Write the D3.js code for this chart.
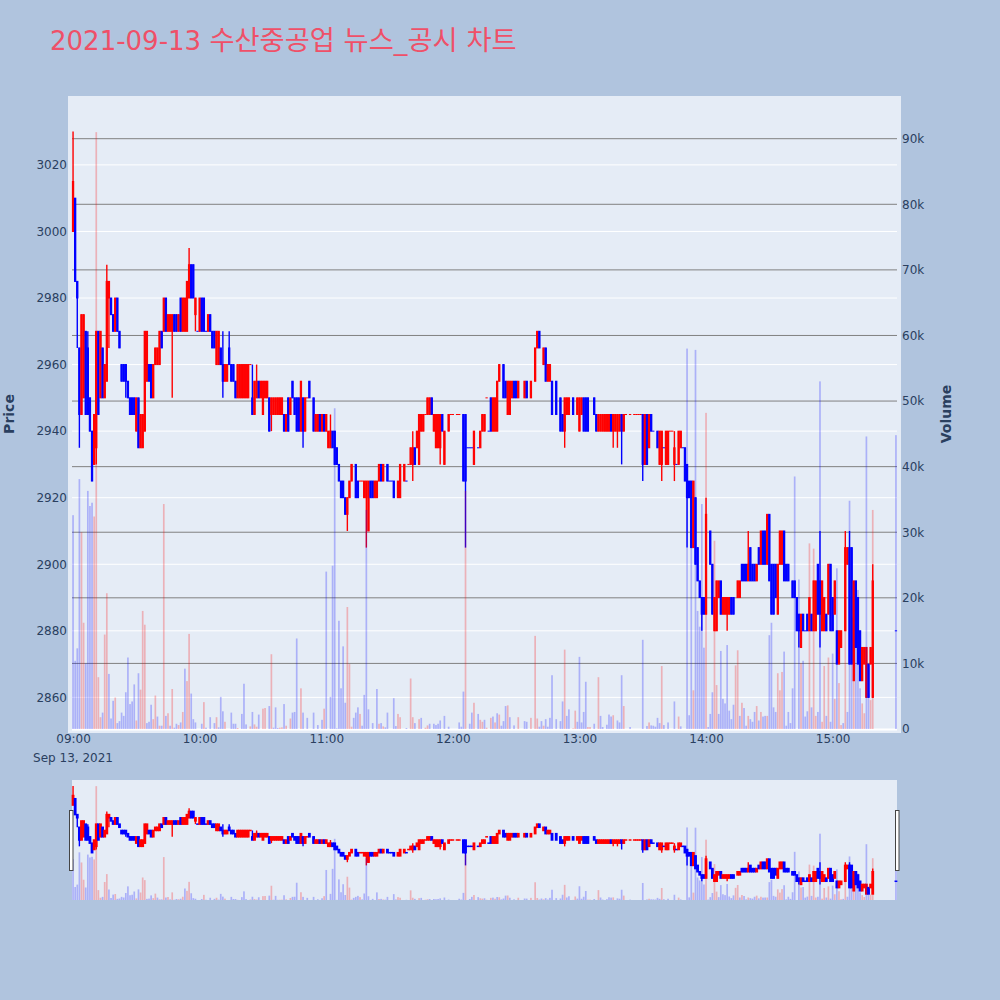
<!DOCTYPE html>
<html><head><meta charset="utf-8">
<script src="https://cdn.jsdelivr.net/npm/d3@7/dist/d3.min.js"></script>
<style>html,body{margin:0;padding:0;background:#b0c4de}svg{display:block}</style>
</head><body><svg id="c" width="1000" height="1000"></svg>
<script>
const chartDate = "2021-09-13";
const chartName = "수산중공업 뉴스_공시 차트";
const xTickMinutes = [0,60,120,180,240,300,360];
const xTickLabels = ["09:00","10:00","11:00","12:00","13:00","14:00","15:00"];
const dateLabel = "Sep 13, 2021";
const priceTicks = [2860,2880,2900,2920,2940,2960,2980,3000,3020];
const volumeTicks = [0,10,20,30,40,50,60,70,80,90];

const candleMinutes = [
0,1,2,3,4,5,6,7,8,9,10,11,12,13,14,15,16,17,18,19,
20,21,22,23,24,25,26,27,28,29,30,31,32,33,34,35,36,37,38,39,
40,41,42,43,44,45,46,47,48,49,50,51,52,53,54,55,56,57,58,59,
60,61,62,63,64,65,66,67,68,69,70,71,72,73,74,75,76,77,78,79,
80,81,82,83,84,85,86,87,88,89,90,91,92,93,94,95,96,97,98,99,
100,101,102,103,104,105,106,107,108,109,110,111,112,114,115,116,117,118,119,120,
121,122,123,124,125,126,127,128,129,130,131,132,134,135,136,137,138,139,140,141,
142,143,144,145,146,147,149,150,151,152,154,155,157,158,159,160,161,162,163,164,
165,166,167,168,169,170,171,172,173,174,175,176,178,179,180,182,183,185,186,187,
188,189,190,192,193,194,195,196,197,198,199,200,201,202,204,205,206,207,208,209,
210,211,214,215,217,219,220,221,223,224,225,226,227,229,231,232,233,234,235,237,
239,240,241,242,243,244,247,248,249,250,251,252,253,254,255,256,257,258,259,260,
261,262,264,266,267,268,269,270,271,272,273,274,275,277,278,279,280,281,282,283,
284,285,286,287,288,289,290,291,292,293,294,295,296,297,298,299,300,302,303,304,
305,306,307,308,309,310,311,312,313,315,316,317,318,319,320,321,322,323,324,325,
326,327,328,329,330,331,332,333,334,335,336,337,338,339,341,342,343,344,345,346,
347,348,349,350,351,352,353,354,355,356,357,358,359,360,361,362,363,364,366,367,
368,369,370,371,372,373,374,375,376,377,378,379,390];
const opens = [
3000,3010,2985,2965,2945,2950,2970,2965,2950,2940,2930,2935,2970,2950,2965,2950,2955,2980,2980,2975,
2970,2980,2970,2960,2960,2960,2955,2950,2950,2950,2940,2950,2935,2935,2940,2955,2960,2960,2950,2960,
2960,2960,2970,2970,2980,2970,2970,2970,2975,2975,2970,2980,2970,2970,2970,2980,2990,2990,2975,2970,
2970,2980,2980,2970,2970,2975,2970,2970,2960,2960,2965,2960,2955,2955,2965,2960,2960,2955,2950,2950,
2950,2950,2950,2950,2960,2950,2945,2950,2955,2950,2945,2950,2950,2950,2945,2945,2945,2945,2945,2945,
2945,2940,2950,2945,2955,2950,2950,2950,2940,2950,2940,2950,2955,2950,2940,2940,2945,2940,2945,2940,
2935,2935,2940,2940,2935,2930,2925,2925,2920,2915,2920,2925,2930,2925,2925,2925,2920,2920,2910,2925,
2925,2920,2920,2925,2930,2925,2930,2925,2925,2925,2920,2920,2925,2925,2930,2930,2930,2935,2935,2930,
2940,2940,2945,2945,2945,2950,2940,2935,2935,2935,2945,2930,2940,2945,2945,2945,2945,2945,2945,2935,
2935,2935,2930,2935,2935,2940,2940,2950,2940,2950,2940,2940,2940,2955,2960,2955,2945,2945,2950,2955,
2955,2950,2950,2955,2950,2955,2965,2970,2960,2965,2955,2955,2955,2955,2950,2945,2940,2945,2945,2950,
2945,2940,2945,2950,2950,2950,2950,2945,2940,2940,2940,2940,2940,2940,2945,2940,2940,2940,2940,2945,
2940,2945,2945,2945,2945,2945,2945,2945,2930,2945,2935,2945,2940,2940,2930,2930,2935,2930,2930,2940,
2940,2930,2930,2930,2935,2935,2935,2930,2925,2925,2905,2920,2905,2895,2890,2890,2885,2910,2900,2880,
2880,2890,2895,2885,2885,2885,2885,2890,2890,2890,2890,2900,2900,2900,2895,2905,2900,2900,2895,2905,
2900,2910,2910,2900,2915,2900,2900,2900,2885,2900,2900,2910,2900,2900,2895,2895,2890,2885,2875,2885,
2880,2885,2880,2885,2880,2880,2900,2895,2880,2880,2885,2885,2900,2890,2885,2880,2870,2875,2880,2900,
2905,2905,2865,2895,2890,2880,2865,2870,2860,2870,2870,2860,2880];
const closes = [
3015,2985,2980,2945,2975,2975,2945,2945,2940,2925,2945,2970,2945,2970,2950,2960,2985,2985,2975,2970,
2980,2970,2965,2955,2955,2955,2950,2945,2945,2945,2950,2935,2945,2945,2970,2970,2955,2950,2960,2965,
2965,2970,2965,2980,2970,2975,2975,2975,2970,2970,2975,2970,2980,2980,2985,2990,2980,2980,2980,2970,
2980,2970,2970,2970,2975,2970,2965,2965,2970,2970,2960,2955,2960,2960,2960,2955,2955,2950,2960,2960,
2960,2960,2960,2960,2960,2945,2955,2955,2950,2955,2955,2955,2955,2940,2950,2950,2950,2950,2950,2950,
2940,2945,2940,2950,2950,2945,2940,2940,2955,2940,2950,2950,2950,2940,2945,2945,2940,2945,2940,2945,
2940,2940,2935,2930,2930,2925,2920,2920,2915,2920,2925,2930,2920,2920,2925,2925,2925,2925,2925,2920,
2920,2925,2925,2930,2925,2930,2925,2925,2925,2920,2925,2930,2930,2925,2930,2935,2935,2930,2940,2945,
2945,2945,2945,2950,2950,2945,2945,2945,2945,2945,2940,2940,2945,2945,2945,2945,2945,2925,2925,2935,
2935,2935,2940,2935,2940,2945,2945,2950,2940,2940,2950,2950,2955,2960,2950,2950,2955,2955,2955,2950,
2950,2955,2955,2950,2955,2965,2970,2965,2965,2955,2960,2960,2945,2945,2940,2940,2950,2950,2950,2945,
2950,2950,2950,2940,2940,2940,2945,2940,2945,2945,2945,2945,2945,2945,2940,2945,2945,2945,2945,2940,
2945,2945,2945,2945,2945,2945,2945,2930,2945,2930,2945,2940,2940,2935,2940,2940,2935,2940,2940,2940,
2940,2935,2930,2940,2940,2935,2925,2920,2920,2905,2925,2900,2895,2890,2885,2885,2915,2900,2885,2890,
2895,2895,2885,2890,2890,2890,2890,2885,2885,2895,2895,2895,2895,2895,2900,2895,2895,2895,2900,2900,
2910,2900,2900,2915,2895,2885,2885,2890,2900,2910,2910,2895,2895,2895,2890,2890,2880,2880,2885,2880,
2880,2880,2890,2880,2895,2895,2885,2885,2895,2890,2880,2900,2880,2880,2895,2870,2880,2880,2905,2905,
2870,2870,2895,2875,2870,2865,2875,2875,2875,2860,2875,2895,2880];
const highWickMinutes = [0,7,16,55,71,74,85,87,122,161,285,300,320,354,366,368,379];
const highWickValues = [3030,2970,2990,2995,2970,2970,2960,2960,2945,2940,2940,2920,2910,2910,2910,2910,2900];
const lowWickMinutes = [2,3,11,17,25,47,58,71,94,109,130,139,161,174,186,233,256,258,260,270,279,285,291,298,310,344,354];
const lowWickValues = [2965,2935,2930,2965,2950,2950,2970,2950,2940,2935,2910,2905,2925,2930,2905,2935,2935,2935,2930,2925,2925,2925,2905,2880,2880,2875,2875];
const flatFallingMinutes = [59,63,150,151,158,187,188,189,192,197,275,280,286,289,347,390];

const volumeMinutes = [
0,1,2,3,4,5,6,7,8,9,10,11,12,13,14,15,16,17,18,19,
20,21,22,23,24,25,26,27,28,29,30,31,32,33,34,35,36,37,38,39,
40,41,42,43,44,45,46,47,48,49,50,51,52,53,54,55,56,57,58,61,
62,63,65,67,68,69,70,71,72,75,76,77,78,80,81,82,84,85,86,87,
88,90,91,93,94,95,96,97,98,99,100,101,103,104,105,106,108,109,111,114,
116,118,119,120,122,123,124,125,126,127,128,129,130,131,132,133,134,135,136,137,
138,139,140,142,144,145,146,147,148,149,152,153,154,155,158,160,161,162,164,165,
167,168,169,171,172,173,174,176,178,183,184,185,186,188,189,190,192,193,194,195,
196,198,199,200,201,202,203,204,205,206,207,209,211,214,215,217,219,220,221,222,
223,224,225,226,227,229,231,232,233,234,235,237,238,239,240,241,242,243,244,245,
247,249,250,251,253,254,255,256,258,259,260,261,264,270,272,273,274,275,276,277,
278,279,280,282,285,287,288,291,292,293,294,295,296,297,298,299,300,301,302,303,
304,305,306,307,308,309,310,311,312,313,314,315,316,317,318,319,320,321,322,323,
324,325,326,327,328,329,330,331,332,333,334,335,336,337,338,339,340,341,342,344,
345,346,347,348,349,350,351,352,353,354,355,356,357,358,359,360,361,362,363,364,
365,366,367,368,369,370,371,372,373,374,375,376,377,378,379,390];
const volumeThousands = [
32.6,10.4,12.3,38.1,30,16.2,10,36.3,34,34.5,32.4,91,7.9,1.8,2.5,14.4,20.7,8.4,1.6,4.3,
4.8,.9,1.2,2.5,2,5.6,10.9,3.8,4.2,6.8,1.3,8.5,6,18,15.9,.9,1.1,3.7,1.5,5.1,
1.9,.5,.5,34.3,2,2.4,.5,6.1,.2,.8,.6,1,2.6,9.2,7.3,14.5,5.4,1.5,1,.8,
4.1,.2,1.8,.9,1.8,.25,4.9,2.7,1.1,2.5,.8,.8,.15,2.3,6.9,.7,.4,2.6,.7,.35,
2.2,3.1,3.2,3.5,11.4,.2,3.3,.15,.2,.25,3.8,.5,1.6,2.5,2.6,13.8,6.2,2.5,1.7,2.5,
.6,1.4,3.1,24,4.9,24.9,48.9,.1,16.5,6.2,12.6,4,18.6,9.9,.35,1.7,2.5,3.3,2.3,.5,
5.2,33.4,3,.9,6.1,.8,.9,.4,.25,2.5,4.7,.45,2.3,1.8,.15,7.7,1.8,.9,1.5,1.7,
.2,.55,.8,.8,.6,.8,1.3,2,.35,1,.35,5.7,36.3,.8,2.5,4,2.3,1.4,1.1,1.4,
.2,1.7,1.9,1,2.4,2.2,.5,1.2,3.5,3.6,1.8,.55,1.8,1.2,1.1,1.7,14.2,1.6,.35,1.2,
.5,1.5,.35,1.7,8.2,1.5,1.2,4.2,12.1,2,3,.1,2.8,1.1,11,1,2.6,7.2,.3,.3,
.8,7.9,2,.3,.65,2.2,1.9,2.1,1.3,1,8.2,3.5,.3,13.6,.45,1,.55,.5,.35,1.7,
.9,9.6,.6,1,4.2,1.9,.4,58,2.1,30,5.9,57.8,18,15.6,34.3,12.4,48.2,.3,2.3,5.6,
28.7,6.7,2.3,11.9,4.6,3.9,12.8,2.8,1.5,3.7,9.7,12,2,4,3.2,.5,2,1.5,1.1,2.6,
3.5,1.3,2.6,1.9,2,2,14.3,16.2,3.3,2.6,8.5,5.9,8.7,11.8,.5,2.6,.9,6.2,38.5,22.8,
10,10.4,1.9,2.7,28.3,3.3,27.5,2,2.6,53,1.1,9.6,2,10.9,1.1,11.5,4.6,24.5,7,.6,
.9,20,2.6,34.8,17,7.5,15.6,21.2,6.2,3.9,2.4,44.6,5.4,4.4,33.4,44.8];
const volumeRising = [
0,0,0,0,1,1,0,0,0,0,1,1,1,1,0,1,1,0,0,0,
1,0,0,0,0,0,0,0,0,0,1,0,1,1,1,0,0,0,1,1,
0,1,0,1,0,1,0,1,0,0,1,0,1,0,1,1,0,0,0,0,
1,0,0,0,1,0,0,0,1,0,0,0,1,0,0,0,1,0,1,1,
0,1,1,0,1,0,0,0,1,1,0,1,1,0,0,0,1,0,0,0,
0,0,1,0,0,0,0,0,0,0,0,0,1,1,1,0,0,0,1,0,
0,0,0,0,0,1,0,1,0,0,0,0,1,1,0,1,1,0,1,0,
1,1,0,0,0,0,0,0,0,0,0,0,1,0,0,1,0,1,1,0,
1,1,0,1,0,1,0,0,0,1,0,0,1,0,0,1,1,1,0,0,
1,0,0,0,0,0,0,0,1,0,0,1,1,0,0,0,0,0,1,1,
0,1,0,0,0,0,0,1,0,0,0,1,0,0,0,1,0,0,0,0,
0,1,0,0,0,1,0,0,0,0,1,0,0,0,0,0,1,0,0,0,
1,1,0,0,0,0,0,0,0,0,1,1,0,1,0,0,1,0,0,0,
1,0,1,0,0,1,0,0,0,0,1,1,1,0,0,0,0,0,0,0,
1,0,0,0,1,0,1,1,0,0,1,1,0,1,0,0,1,0,1,1,
0,1,0,0,0,1,0,0,0,1,1,0,0,1,1,0];

const PAPER="#b0c4de", PLOT="#e5ecf6", INK="#2a3f5f", UP="#ff0000", DOWN="#0000ff";
const FONT='"DejaVu Sans","Noto Sans CJK KR",sans-serif';
const left=72,right=897;
const svg=d3.select("#c").style("font-family",FONT);
svg.append("rect").attr("width",1000).attr("height",1000).attr("fill",PAPER);

const x=d3.scaleLinear().domain([-0.5,390.5]).range([left,right]);
const PRICE=[2850.5,3039.5], VOL=[0,95.9];
const yP=d3.scaleLinear().domain(PRICE).range([729,100]);
const yV=d3.scaleLinear().domain(VOL).range([729,100]);
const yPs=d3.scaleLinear().domain(PRICE).range([900,780]);
const yVs=d3.scaleLinear().domain(VOL).range([900,780]);

const highMap=new Map(highWickMinutes.map((m,i)=>[m,highWickValues[i]]));
const lowMap=new Map(lowWickMinutes.map((m,i)=>[m,lowWickValues[i]]));
const flatFalling=new Set(flatFallingMinutes);
const candles=candleMinutes.map((m,i)=>{const o=opens[i],c=closes[i];
  return {m,o,c,h:Math.max(o,c,highMap.get(m)??-Infinity),l:Math.min(o,c,lowMap.get(m)??Infinity)};});
const bars=volumeMinutes.map((m,i)=>({m,v:volumeThousands[i],up:volumeRising[i]===1}));

function drawMarks(g,py,vy,strokeW){
  const unit=x(1)-x(0), boxW=unit*0.62, barW=unit*0.8;
  const cg=g.append("g");
  const col=d=>(d.c>d.o||(d.c===d.o&&!flatFalling.has(d.m)))?UP:DOWN;
  cg.selectAll("line").data(candles).join("line")
    .attr("x1",d=>x(d.m)).attr("x2",d=>x(d.m)).attr("y1",d=>py(d.h)).attr("y2",d=>py(d.l))
    .attr("stroke",col).attr("stroke-width",1.4);
  cg.selectAll("rect").data(candles).join("rect")
    .attr("x",d=>x(d.m)-boxW/2).attr("width",boxW)
    .attr("y",d=>py(Math.max(d.o,d.c))).attr("height",d=>Math.max(0.01,Math.abs(py(d.o)-py(d.c))))
    .attr("fill",col).attr("stroke",col).attr("stroke-width",strokeW);
  g.append("g").selectAll("rect").data(bars).join("rect")
    .attr("x",d=>x(d.m)-barW/2).attr("width",barW)
    .attr("y",d=>vy(d.v)).attr("height",d=>vy(0)-vy(d.v))
    .attr("fill",d=>d.up?UP:DOWN).attr("opacity",0.25);
}

// main plot
svg.append("rect").attr("x",68).attr("y",96).attr("width",833).attr("height",637).attr("fill",PLOT);
const gridP=svg.append("g");
gridP.selectAll("line").data(priceTicks).join("line")
  .attr("x1",left).attr("x2",right).attr("y1",d=>yP(d)).attr("y2",d=>yP(d)).attr("stroke","#fff").attr("stroke-width",1);
const gridV=svg.append("g");
gridV.selectAll("line").data(volumeTicks.filter(d=>d>0)).join("line")
  .attr("x1",left).attr("x2",right).attr("y1",d=>yV(d)).attr("y2",d=>yV(d)).attr("stroke","#808080").attr("stroke-width",1);
svg.append("line").attr("x1",left).attr("x2",right).attr("y1",yV(0)+.5).attr("y2",yV(0)+.5).attr("stroke","#fff").attr("stroke-width",2);
drawMarks(svg.append("g"),yP,yV,1);

// axes
function styleAxis(g){g.select(".domain").remove();g.selectAll(".tick line").remove();
  g.selectAll("text").attr("fill",INK).style("font-size","12px").style("font-family",FONT);}
svg.append("g").attr("transform","translate(68,0)")
  .call(d3.axisLeft(yP).tickValues(priceTicks).tickSize(0).tickPadding(1).tickFormat(d3.format("d"))).call(styleAxis);
svg.append("g").attr("transform","translate(901,0)")
  .call(d3.axisRight(yV).tickValues(volumeTicks).tickSize(0).tickPadding(1).tickFormat(d=>d===0?"0":d+"k")).call(styleAxis);
svg.append("g").attr("transform","translate(0,733)")
  .call(d3.axisBottom(x).tickValues(xTickMinutes).tickSize(0).tickPadding(1).tickFormat((d,i)=>xTickLabels[i])).call(styleAxis);
svg.append("text").attr("x",x(0)).attr("y",762).attr("text-anchor","middle").attr("fill",INK).style("font-size","12px").text(dateLabel);

svg.append("text").attr("transform","translate(14,414) rotate(-90)").attr("text-anchor","middle")
  .attr("fill",INK).style("font-size","14px").style("font-weight","bold").text("Price");
svg.append("text").attr("transform","translate(951,414) rotate(-90)").attr("text-anchor","middle")
  .attr("fill",INK).style("font-size","14px").style("font-weight","bold").text("Volume");

const titleText=svg.append("text").attr("x",50).attr("y",50).attr("fill","#ef5068");
titleText.append("tspan").style("font-size","26px").text(chartDate+" ");
titleText.append("tspan").style("font-size","27.3px").text(chartName);

// range slider
svg.append("rect").attr("x",left).attr("y",780).attr("width",right-left).attr("height",120).attr("fill",PLOT);
drawMarks(svg.append("g"),yPs,yVs,1.5);
[[69.5],[895.5]].forEach(([hx])=>{
  svg.append("rect").attr("x",hx).attr("y",810.5).attr("width",3.5).attr("height",60)
    .attr("fill","#fff").attr("stroke","#444").attr("stroke-width",1);
});
</script></body></html>
